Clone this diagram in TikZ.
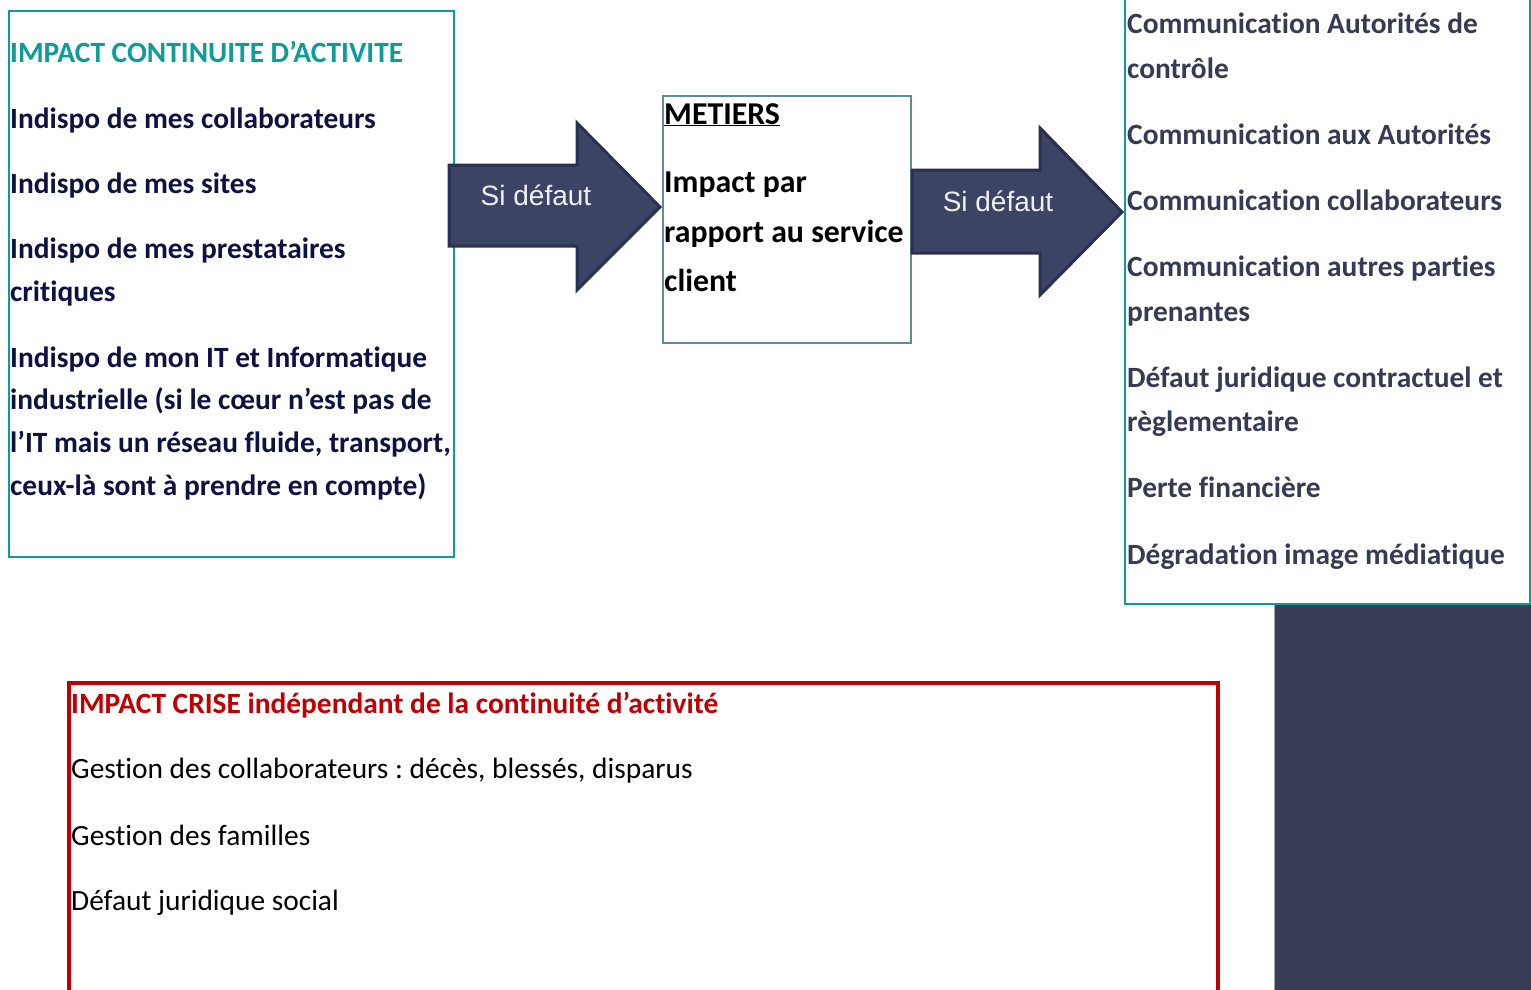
\documentclass[tikz,border=0pt]{standalone}
\usepackage{fontspec}
\setmainfont{Carlito}[Ligatures=NoCommon]
\newfontfamily\arialf{Liberation Sans}
\frenchspacing
\definecolor{tealc}{HTML}{0E9C97}
\definecolor{navyc}{HTML}{0D1243}
\definecolor{slatec}{HTML}{353A55}
\definecolor{arrowfill}{HTML}{3C4466}
\definecolor{arrowline}{HTML}{2A3050}
\definecolor{darkrect}{HTML}{3A3D56}
\definecolor{redc}{HTML}{C00000}
\definecolor{midborder}{HTML}{5B8E9A}
\tikzset{
  boxnode/.style={draw, anchor=north west, inner sep=0pt, line width=2pt},
  txt/.style={anchor=base west, inner sep=0pt, font=\fontsize{29.4}{29.4}\selectfont\bfseries},
  lefttxt/.style={txt, text=navyc},
  righttxt/.style={txt, text=slatec},
  midtxt/.style={anchor=base west, inner sep=0pt, font=\fontsize{31.8}{31.8}\selectfont\bfseries, text=black},
  redtxt/.style={anchor=base west, inner sep=0pt, font=\fontsize{29.4}{29.4}\selectfont, text=black},
  blockarrow/.style={fill=arrowfill, draw=arrowline, line width=3pt, line join=miter},
  arrowlabel/.style={inner sep=0pt, font=\arialf\fontsize{28}{28}\selectfont, text=white!94!black}
}
\begin{document}
\begin{tikzpicture}[x=1pt,y=-1pt]
\useasboundingbox (0,0) rectangle (1531,990);
\clip (0,0) rectangle (1531,990);
\fill[white] (0,0) rectangle (1531,990);

% dark rectangle bottom right
\node[fill=darkrect, anchor=north west, inner sep=0pt, minimum width=260pt, minimum height=400pt] (dark) at (1274,603) {};
\draw[gray!70, line width=1pt] (dark.north west) -- (dark.south west);

% boxes
\node[boxnode, draw=tealc, minimum width=445pt, minimum height=546pt] (left) at (8,10) {};
\node[boxnode, draw=midborder, minimum width=248pt, minimum height=247pt] (mid) at (662,95) {};
\node[boxnode, draw=tealc, fill=white, minimum width=405pt, minimum height=613pt] (right) at (1124,-10) {};
\node[boxnode, draw=redc, line width=4pt, minimum width=1149pt, minimum height=340pt] (crise) at (67,681) {};

% block arrows
\draw[blockarrow] (449,165) -- (577,165) -- (577,123) -- (660,207) -- (577,290) -- (577,246) -- (449,246) -- cycle;
\node[arrowlabel] (a1) at (536,195) {Si défaut};
\draw[blockarrow] (912,170) -- (1040,170) -- (1040,128) -- (1122,212) -- (1040,295) -- (1040,253) -- (912,253) -- cycle;
\node[arrowlabel] (a2) at (998,201) {Si défaut};

% left box text
\node[lefttxt, text=tealc] (l0) at (10,63) {IMPACT CONTINUITE D’ACTIVITE};
\node[lefttxt] (l1) at (10,128) {Indispo de mes collaborateurs};
\node[lefttxt] (l2) at (10,193) {Indispo de mes sites};
\node[lefttxt] (l3) at (10,258) {Indispo de mes prestataires};
\node[lefttxt] (l4) at (10,301) {critiques};
\node[lefttxt] (l5) at (10,367) {Indispo de mon IT et Informatique};
\node[lefttxt] (l6) at (10,409) {industrielle (si le cœur n’est pas de};
\node[lefttxt] (l7) at (10,452) {l’IT mais un réseau fluide, transport,};
\node[lefttxt] (l8) at (10,495) {ceux-là sont à prendre en compte)};

% middle box text
\node[midtxt] (m0) at (664,124) {\underline{METIERS}};
\node[midtxt] (m1) at (664,192) {Impact par};
\node[midtxt] (m2) at (664,242) {rapport au service};
\node[midtxt] (m3) at (664,291) {client};

% right box text
\node[righttxt] (r1) at (1127,34) {Communication Autorités de};
\node[righttxt] (r2) at (1127,78) {contrôle};
\node[righttxt] (r3) at (1127,144) {Communication aux Autorités};
\node[righttxt] (r4) at (1127,210) {Communication collaborateurs};
\node[righttxt] (r5) at (1127,276) {Communication autres parties};
\node[righttxt] (r6) at (1127,321) {prenantes};
\node[righttxt] (r7) at (1127,387) {Défaut juridique contractuel et};
\node[righttxt] (r8) at (1127,431) {règlementaire};
\node[righttxt] (r9) at (1127,497) {Perte financière};
\node[righttxt] (r10) at (1127,564) {Dégradation image médiatique};

% crise box text
\node[redtxt, font=\fontsize{29.4}{29.4}\selectfont\bfseries, text=redc] (c0) at (71,713) {IMPACT CRISE indépendant de la continuité d’activité};
\node[redtxt] (c1) at (71,778) {Gestion des collaborateurs : décès, blessés, disparus};
\node[redtxt] (c2) at (71,845) {Gestion des familles};
\node[redtxt] (c3) at (71,910) {Défaut juridique social};
\end{tikzpicture}
\end{document}
